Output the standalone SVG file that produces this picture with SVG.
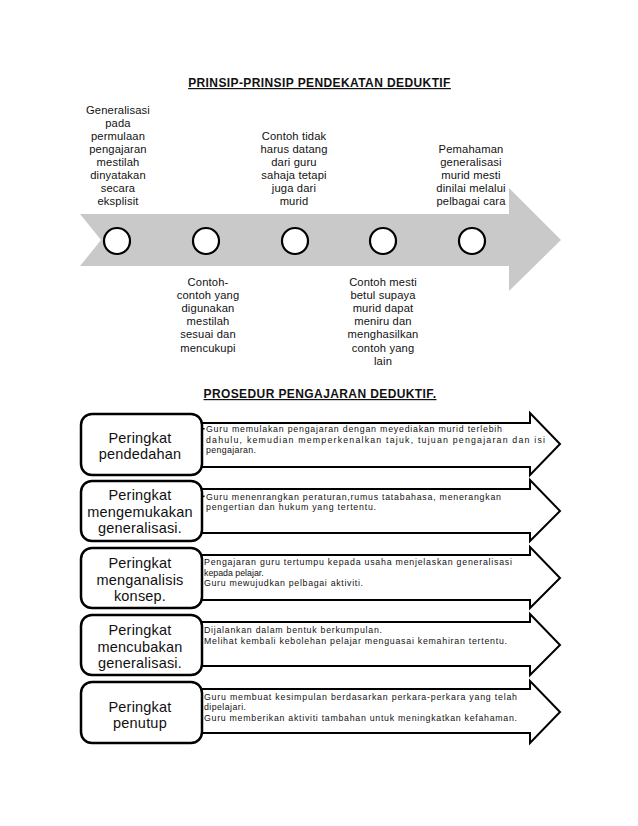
<svg xmlns="http://www.w3.org/2000/svg" width="638" height="826" viewBox="0 0 638 826">
<style>
.t{font-family:"Liberation Sans",Arial,sans-serif;font-size:11.2px;fill:#111;text-anchor:middle;letter-spacing:0.15px}
.h{font-family:"Liberation Sans",Arial,sans-serif;font-size:12px;font-weight:bold;fill:#111;text-decoration:underline;letter-spacing:0.4px}
.bx{fill:#fff;stroke:#000;stroke-width:2.5}
.ar{fill:#fff;stroke:#000;stroke-width:2}
.lbl{font-family:"Liberation Sans",Arial,sans-serif;font-size:14.5px;fill:#111;text-anchor:middle;letter-spacing:0.2px}
.s{font-family:"Liberation Sans",Arial,sans-serif;font-size:8.8px;fill:#111}
.c{fill:#fff;stroke:#000;stroke-width:2.2}
.dot{fill:#111}
</style>
<rect width="638" height="826" fill="#fff"/>
<text class="h" x="319.5" y="87" text-anchor="middle">PRINSIP-PRINSIP PENDEKATAN DEDUKTIF</text>

<g id="timeline">
<polygon points="80,214 509,214 509,188 561,240 509,291 509,266 80,266 101,240" fill="#c9c9c9"/>
</g>

<g id="p1">
<circle class="c" cx="117" cy="241" r="13"/>
<text class="t" x="118" y="113.5">Generalisasi</text>
<text class="t" x="118" y="126.6">pada</text>
<text class="t" x="118" y="139.7">permulaan</text>
<text class="t" x="118" y="152.8">pengajaran</text>
<text class="t" x="118" y="165.9">mestilah</text>
<text class="t" x="118" y="179">dinyatakan</text>
<text class="t" x="118" y="192.1">secara</text>
<text class="t" x="118" y="205.2">eksplisit</text>
</g>
<g id="p2">
<circle class="c" cx="206" cy="241" r="13"/>
<text class="t" x="208" y="285.5">Contoh-</text>
<text class="t" x="208" y="298.7">contoh yang</text>
<text class="t" x="208" y="311.9">digunakan</text>
<text class="t" x="208" y="325.1">mestilah</text>
<text class="t" x="208" y="338.3">sesuai dan</text>
<text class="t" x="208" y="351.5">mencukupi</text>
</g>
<g id="p3">
<circle class="c" cx="295" cy="241" r="13"/>
<text class="t" x="294" y="139.7">Contoh tidak</text>
<text class="t" x="294" y="152.8">harus datang</text>
<text class="t" x="294" y="165.9">dari guru</text>
<text class="t" x="294" y="179">sahaja tetapi</text>
<text class="t" x="294" y="192.1">juga dari</text>
<text class="t" x="294" y="205.2">murid</text>
</g>
<g id="p4">
<circle class="c" cx="383" cy="241" r="13"/>
<text class="t" x="383" y="285.5">Contoh mesti</text>
<text class="t" x="383" y="298.7">betul supaya</text>
<text class="t" x="383" y="311.9">murid dapat</text>
<text class="t" x="383" y="325.1">meniru dan</text>
<text class="t" x="383" y="338.3">menghasilkan</text>
<text class="t" x="383" y="351.5">contoh yang</text>
<text class="t" x="383" y="364.7">lain</text>
</g>
<g id="p5">
<circle class="c" cx="472" cy="241" r="13"/>
<text class="t" x="471" y="152.8">Pemahaman</text>
<text class="t" x="471" y="165.9">generalisasi</text>
<text class="t" x="471" y="179">murid mesti</text>
<text class="t" x="471" y="192.1">dinilai melalui</text>
<text class="t" x="471" y="205.2">pelbagai cara</text>
</g>

<text class="h" x="320" y="398" text-anchor="middle">PROSEDUR PENGAJARAN DEDUKTIF.</text>

<g id="connectors">
<polygon class="ar" points="195,423 530,423 530,413 560,444 530,475 530,467 195,467"/>
<polygon class="ar" points="195,489 530,489 530,480 560,511 530,541 530,533 195,533"/>
<polygon class="ar" points="195,555 530,555 530,547 560,578 530,608 530,600 195,600"/>
<polygon class="ar" points="195,622 530,622 530,614 560,645 530,675 530,666 195,666"/>
<polygon class="ar" points="195,689 530,689 530,681 560,712 530,743 530,733 195,733"/>
</g>

<g id="s1">
<rect class="bx" x="81" y="414" width="121" height="61" rx="11"/>
<text class="lbl" x="140" y="443">Peringkat</text>
<text class="lbl" x="140" y="459">pendedahan</text>
<rect class="dot" x="203" y="428" width="1.6" height="1.6"/>
<text class="s" x="206" y="432" textLength="296" lengthAdjust="spacing">Guru memulakan pengajaran dengan meyediakan murid terlebih</text>
<text class="s" x="206" y="442.5" textLength="339" lengthAdjust="spacing">dahulu, kemudian memperkenalkan tajuk, tujuan pengajaran dan isi</text>
<text class="s" x="206" y="453" textLength="50" lengthAdjust="spacing">pengajaran.</text>
</g>
<g id="s2">
<rect class="bx" x="81" y="481" width="121" height="60" rx="11"/>
<text class="lbl" x="140" y="500">Peringkat</text>
<text class="lbl" x="140" y="516.5">mengemukakan</text>
<text class="lbl" x="140" y="533">generalisasi.</text>
<rect class="dot" x="203" y="495.5" width="1.6" height="1.6"/>
<text class="s" x="206" y="499.5" textLength="295" lengthAdjust="spacing">Guru menenrangkan peraturan,rumus tatabahasa, menerangkan</text>
<text class="s" x="206" y="510" textLength="170" lengthAdjust="spacing">pengertian dan hukum yang tertentu.</text>
</g>
<g id="s3">
<rect class="bx" x="81" y="548" width="121" height="60" rx="11"/>
<text class="lbl" x="140" y="568">Peringkat</text>
<text class="lbl" x="140" y="584.5">menganalisis</text>
<text class="lbl" x="140" y="601">konsep.</text>
<rect class="dot" x="201" y="560.5" width="1.6" height="1.6"/>
<text class="s" x="204" y="564.5" textLength="308" lengthAdjust="spacing">Pengajaran guru tertumpu kepada usaha menjelaskan generalisasi</text>
<text class="s" x="204" y="575.5">kepada pelajar.</text>
<rect class="dot" x="201" y="582" width="1.6" height="1.6"/>
<text class="s" x="204" y="586" textLength="159" lengthAdjust="spacing">Guru mewujudkan pelbagai aktiviti.</text>
</g>
<g id="s4">
<rect class="bx" x="81" y="615" width="121" height="60" rx="11"/>
<text class="lbl" x="140" y="635">Peringkat</text>
<text class="lbl" x="140" y="651.5">mencubakan</text>
<text class="lbl" x="140" y="668">generalisasi.</text>
<rect class="dot" x="201" y="629" width="1.6" height="1.6"/>
<text class="s" x="204" y="633" textLength="178" lengthAdjust="spacing">Dijalankan dalam bentuk berkumpulan.</text>
<rect class="dot" x="201" y="639.5" width="1.6" height="1.6"/>
<text class="s" x="204" y="643.5" textLength="303" lengthAdjust="spacing">Melihat kembali kebolehan pelajar menguasai kemahiran tertentu.</text>
</g>
<g id="s5">
<rect class="bx" x="81" y="682" width="121" height="61" rx="11"/>
<text class="lbl" x="140" y="712">Peringkat</text>
<text class="lbl" x="140" y="728">penutup</text>
<rect class="dot" x="201" y="695.5" width="1.6" height="1.6"/>
<text class="s" x="204" y="699.5" textLength="313" lengthAdjust="spacing">Guru membuat kesimpulan berdasarkan perkara-perkara yang telah</text>
<text class="s" x="204" y="710" textLength="42" lengthAdjust="spacing">dipelajari.</text>
<rect class="dot" x="201" y="716.5" width="1.6" height="1.6"/>
<text class="s" x="204" y="720.5" textLength="313" lengthAdjust="spacing">Guru memberikan aktiviti tambahan untuk meningkatkan kefahaman.</text>
</g>
</svg>
